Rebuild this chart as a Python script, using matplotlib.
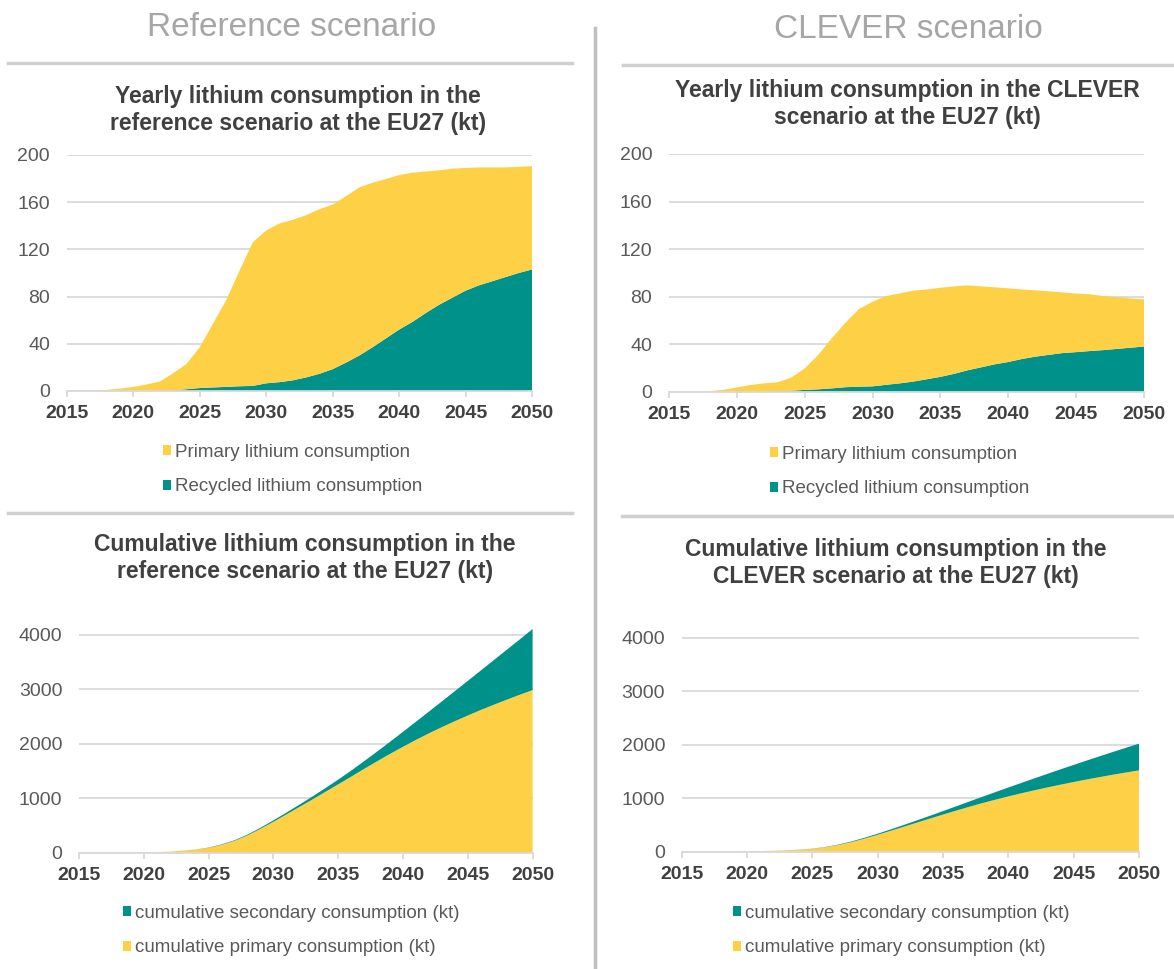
import matplotlib
matplotlib.use("Agg")
import matplotlib.pyplot as plt
from matplotlib.lines import Line2D
from matplotlib.patches import Patch

plt.rcParams["font.family"] = ["Liberation Sans", "DejaVu Sans"]

W, H = 1174, 969
YELLOW = "#FED046"
TEAL = "#00918A"
GRID = "#D9D9D9"
DARK = "#404040"
MID = "#595959"

years = list(range(2015, 2051))

# yearly consumption, kt
ref_primary = [0, 0, 0, 1, 2, 3.4, 5.5, 8, 14.5, 21.2, 34.5, 54, 73.5, 98, 121.7,
               129.5, 134.5, 136, 137.5, 139.5, 139.5, 141, 142.5, 139.5, 135.1,
               131, 126.5, 120, 114, 109.4, 104, 100, 96.5, 93, 90, 87.6]
ref_recycled = [0, 0, 0, 0, 0, 0, 0, 0, 0.5, 1.5, 2.5, 3, 3.5, 4, 4.3, 6.5, 7.5, 9,
                11.5, 14.5, 18.5, 24, 30, 37, 44.5, 52, 58.5, 66, 73, 79, 85, 89.5,
                93, 96.5, 100, 103]
clever_primary = [0, 0, 0, 0.5, 1.5, 3.6, 5.6, 6.7, 7.4, 11, 18.1, 29, 42.2, 54.2,
                  65.4, 71.2, 74.7, 75.7, 76.5, 75.5, 75, 73.6, 71.5, 68.1, 64.8,
                  62, 58.5, 55.8, 53.5, 51, 49.3, 47.8, 45.5, 43.5, 41.5, 39.7]
clever_recycled = [0, 0, 0, 0, 0, 0, 0, 0.3, 0.5, 0.8, 1.5, 2, 2.8, 3.8, 4.2, 4.5,
                   5.8, 7, 8.5, 10.5, 12.5, 15, 18, 20.5, 23, 25, 27.5, 29.5, 31,
                   32.5, 33.3, 34.2, 35, 36, 37, 38]

# cumulative consumption, kt
ref_cum_primary = [0, 0, 0, 1, 3, 6, 12, 20, 35, 56, 90, 144, 218, 316, 438, 567,
                   702, 838, 975, 1115, 1254, 1395, 1538, 1677, 1813, 1944, 2070,
                   2190, 2304, 2413, 2517, 2618, 2714, 2807, 2897, 2984]
ref_cum_secondary = [0, 0, 0, 0, 0, 0, 0, 0, 1, 2, 5, 8, 11, 15, 19, 26, 33, 42, 54,
                     68, 87, 111, 141, 178, 222, 274, 333, 399, 472, 551, 636, 725,
                     818, 915, 1015, 1120]
clever_cum_primary = [0, 0, 0, 0.5, 2, 6, 11, 18, 25, 36, 54, 83, 126, 180, 245, 316,
                      391, 467, 543, 619, 694, 767, 839, 907, 972, 1034, 1092, 1148,
                      1202, 1253, 1302, 1350, 1395, 1439, 1480, 1520]
clever_cum_secondary = [0, 0, 0, 0, 0, 0, 0, 0.3, 1, 2, 3, 5, 8, 12, 16, 20, 26, 33,
                        42, 52, 65, 80, 98, 118, 141, 166, 194, 223, 254, 287, 320,
                        354, 389, 425, 462, 500]

x_ticks = [2015, 2020, 2025, 2030, 2035, 2040, 2045, 2050]
yearly_ticks = [0, 40, 80, 120, 160, 200]
cum_ticks = [0, 1000, 2000, 3000, 4000]


def fx(x):
    return x / W


def fy(y):
    return 1 - y / H


def make_axes(fig, x0, x1, y_zero, y_top):
    return fig.add_axes([fx(x0), fy(y_zero), (x1 - x0) / W, (y_zero - y_top) / H])


def style_axes(ax, yticks, ytop):
    ax.set_xlim(2015, 2050)
    ax.set_ylim(0, ytop)
    ax.set_xticks(x_ticks)
    ax.set_xticklabels([str(t) for t in x_ticks], fontsize=14,
                       fontweight="bold", color=DARK)
    ax.set_yticks(yticks)
    ax.set_yticklabels([str(t) for t in yticks], fontsize=14, color=MID)
    ax.tick_params(axis="y", length=0, pad=12)
    ax.tick_params(axis="x", length=4, width=1.3, color=GRID, pad=6)
    for s in ("left", "right", "top"):
        ax.spines[s].set_visible(False)
    ax.spines["bottom"].set_color(GRID)
    ax.spines["bottom"].set_linewidth(1.3)
    ax.yaxis.grid(True, color=GRID, linewidth=1.3)
    ax.set_axisbelow(True)
    ax.patch.set_alpha(0)


def add_legend(fig, x, y, items):
    handles = [Patch(facecolor=c, edgecolor="none", label=l) for l, c in items]
    fig.legend(handles=handles, loc="upper left",
               bbox_to_anchor=(fx(x), fy(y)), frameon=False,
               fontsize=13.5, labelcolor=MID, handlelength=0.45,
               handleheight=0.45, handletextpad=0.2, labelspacing=0.93,
               borderpad=0, borderaxespad=0)


fig = plt.figure(figsize=(W / 100, H / 100), dpi=100)

# headers and separators
fig.text(fx(292), fy(28), "Reference scenario", fontsize=24, color="#A6A6A6",
         ha="center", va="center")
fig.text(fx(908), fy(30), "CLEVER scenario", fontsize=24, color="#A6A6A6",
         ha="center", va="center")
for (xa, xb, ya, yb) in [(8, 572, 63, 63), (623, 1172, 65, 65),
                         (8, 572, 513, 513), (622, 1172, 516, 516)]:
    fig.add_artist(Line2D([fx(xa), fx(xb)], [fy(ya), fy(yb)], color="#D0D0D0",
                          linewidth=2.5, transform=fig.transFigure))
fig.add_artist(Line2D([fx(595), fx(595)], [fy(28), fy(969)], color="#BFBFBF",
                      linewidth=2.5, transform=fig.transFigure))

title_kw = dict(fontsize=16.5, fontweight="bold", color=DARK, ha="center",
                va="center", linespacing=1.25)
fig.text(fx(298), fy(110), "Yearly lithium consumption in the\nreference scenario at the EU27 (kt)", **title_kw)
fig.text(fx(907), fy(104), "Yearly lithium consumption in the CLEVER\nscenario at the EU27 (kt)", **title_kw)
fig.text(fx(305), fy(558), "Cumulative lithium consumption in the\nreference scenario at the EU27 (kt)", **title_kw)
fig.text(fx(896), fy(563), "Cumulative lithium consumption in the\nCLEVER scenario at the EU27 (kt)", **title_kw)

# yearly, reference
ax = make_axes(fig, 66.7, 532, 391, 155)
ax.stackplot(years, ref_recycled, ref_primary, colors=[TEAL, YELLOW], linewidth=0)
style_axes(ax, yearly_ticks, 200)

# yearly, CLEVER
ax = make_axes(fig, 669, 1144, 391.7, 154)
ax.stackplot(years, clever_recycled, clever_primary, colors=[TEAL, YELLOW], linewidth=0)
style_axes(ax, yearly_ticks, 200)

# cumulative, reference
ax = make_axes(fig, 79, 532.6, 852.7, 852.7 - 218 * 4300 / 4000)
ax.stackplot(years, ref_cum_primary, ref_cum_secondary, colors=[YELLOW, TEAL], linewidth=0)
style_axes(ax, cum_ticks, 4300)

# cumulative, CLEVER
ax = make_axes(fig, 681.7, 1139, 851.7, 851.7 - 214 * 4300 / 4000)
ax.stackplot(years, clever_cum_primary, clever_cum_secondary, colors=[YELLOW, TEAL], linewidth=0)
style_axes(ax, cum_ticks, 4300)

add_legend(fig, 163, 444, [("Primary lithium consumption", YELLOW),
                           ("Recycled lithium consumption", TEAL)])
add_legend(fig, 770, 446, [("Primary lithium consumption", YELLOW),
                           ("Recycled lithium consumption", TEAL)])
add_legend(fig, 123, 905, [("cumulative secondary consumption (kt)", TEAL),
                           ("cumulative primary consumption (kt)", YELLOW)])
add_legend(fig, 733, 905, [("cumulative secondary consumption (kt)", TEAL),
                           ("cumulative primary consumption (kt)", YELLOW)])

fig.savefig("out.png", dpi=100)
